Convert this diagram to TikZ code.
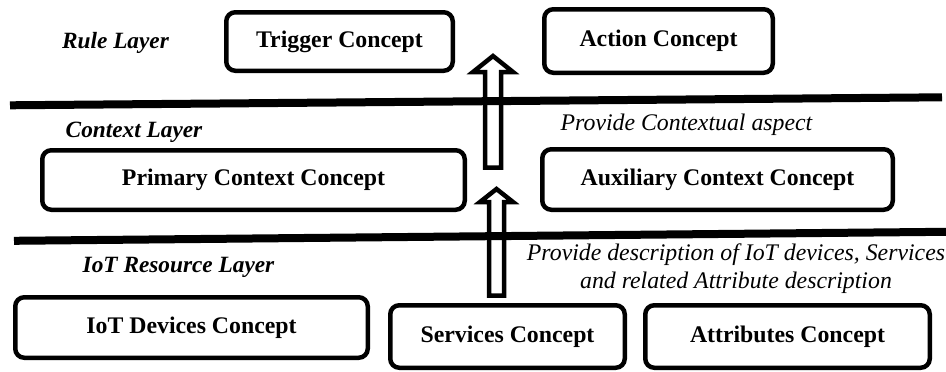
\documentclass[tikz,border=0pt]{standalone}
\usepackage{fontspec}
\setmainfont{Liberation Serif}
\begin{document}
\begin{tikzpicture}[x=1pt,y=-1pt,
  concept/.style={draw, line width=4.5pt, rounded corners=9pt, fill=white,
    font=\bfseries\fontsize{23.8}{28}\selectfont, inner sep=0pt, align=center},
  layerlabel/.style={font=\bfseries\itshape\fontsize{23.3}{28}\selectfont, inner sep=0pt},
  note/.style={font=\itshape\fontsize{23.8}{28}\selectfont, inner sep=0pt, align=center},
  blockarrow/.style={draw, line width=4.5pt, fill=white, miter limit=10},
  layerline/.style={line width=8pt}]
\useasboundingbox (0,0) rectangle (946,372);

% block arrows
\draw[blockarrow] (493,56) -- (513,72) -- (501,72) -- (501,167.5) -- (485,167.5) -- (485,72) -- (473,72) -- cycle;
\draw[blockarrow] (496.5,189) -- (513,202) -- (504,202) -- (504,295.5) -- (489,295.5) -- (489,202) -- (480,202) -- cycle;

% layer separators
\draw[layerline] (10,105.3) -- (942,97.3);
\draw[layerline] (14,240.8) -- (946,231.8);

% rule layer
\node[layerlabel] (rl) at (115.5,43) {Rule Layer};
\node[concept, minimum width=226.5pt, minimum height=58.5pt] (trig) at (339.5,41.5) {Trigger Concept};
\node[concept, minimum width=228.5pt, minimum height=63.5pt] (act) at (658.5,41) {Action Concept};

% context layer
\node[layerlabel] (cl) at (134,132) {Context Layer};
\node[note] (pca) at (686.5,125) {Provide Contextual aspect};
\node[concept, minimum width=422.5pt, minimum height=59.5pt] (prim) at (253.5,180) {Primary Context Concept};
\node[concept, minimum width=350.5pt, minimum height=60.5pt] (aux) at (717.5,179.5) {Auxiliary Context Concept};

% IoT resource layer
\node[layerlabel] (il) at (178.5,267) {IoT Resource Layer};
\node[note] (pd) at (736,269) {Provide description of IoT devices, Services\\and related Attribute description};
\node[concept, minimum width=352.5pt, minimum height=60.5pt] (dev) at (191.5,327.5) {IoT Devices Concept};
\node[concept, minimum width=234.5pt, minimum height=62.5pt] (serv) at (507.5,336.5) {Services Concept};
\node[concept, minimum width=284.5pt, minimum height=62.5pt] (attr) at (787.5,336.5) {Attributes Concept};
\end{tikzpicture}
\end{document}
